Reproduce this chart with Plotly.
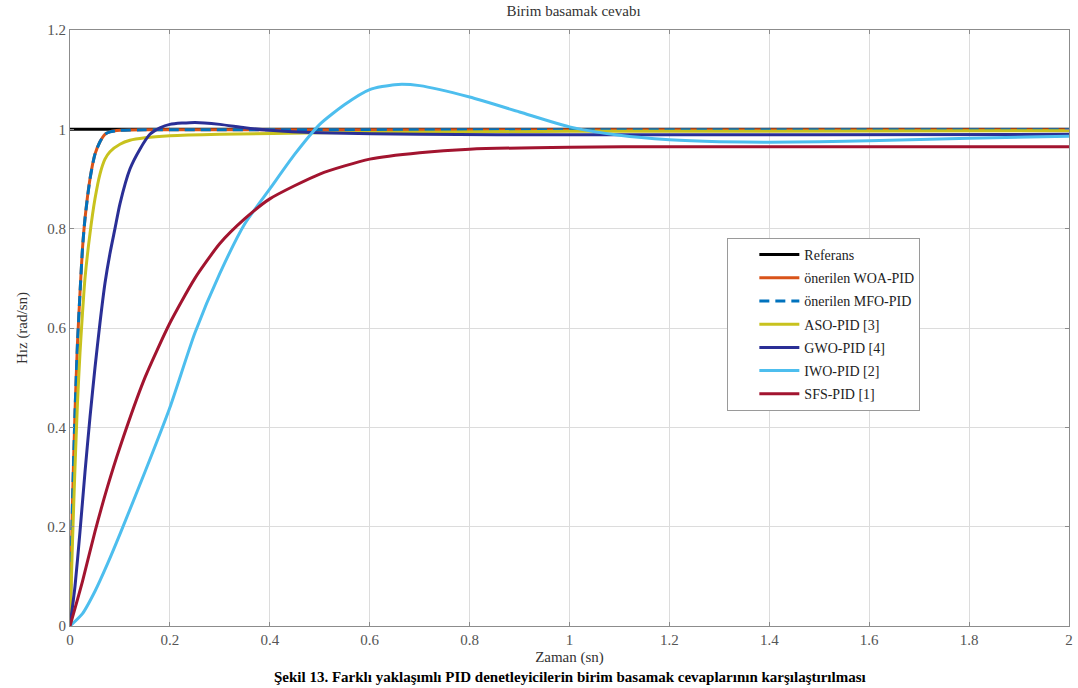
import plotly.graph_objects as go

# ---- data ----
ref_t = [0, 2]
ref_v = [1, 1]

woa_t = [0, 0.005, 0.01, 0.015, 0.02, 0.025, 0.03, 0.04, 0.05, 0.06, 0.07, 0.08, 0.1, 0.15, 0.2, 0.5, 1.0, 2.0]
woa_v = [0, 0.25, 0.43, 0.57, 0.67, 0.76, 0.82, 0.9, 0.95, 0.975, 0.99, 0.995, 0.998, 0.999, 0.999, 0.999, 0.999, 0.999]

mfo_t = [0, 0.005, 0.01, 0.015, 0.02, 0.025, 0.03, 0.04, 0.05, 0.06, 0.07, 0.08, 0.1, 0.15, 0.2, 0.5, 1.0, 2.0]
mfo_v = [0, 0.25, 0.43, 0.57, 0.67, 0.76, 0.82, 0.9, 0.95, 0.975, 0.99, 0.995, 0.998, 0.999, 0.999, 0.999, 0.999, 0.999]

aso_t = [0, 0.005, 0.01, 0.015, 0.02, 0.025, 0.03, 0.04, 0.05, 0.06, 0.07, 0.08, 0.1, 0.12, 0.15, 0.2, 0.3, 0.5, 1.0, 2.0]
aso_v = [0, 0.17, 0.32, 0.45, 0.55, 0.63, 0.7, 0.79, 0.86, 0.91, 0.94, 0.955, 0.97, 0.978, 0.983, 0.987, 0.99, 0.993, 0.996, 0.997]

gwo_t = [0, 0.01, 0.02, 0.03, 0.04, 0.05, 0.06, 0.07, 0.08, 0.09, 0.1, 0.12, 0.14, 0.16, 0.18, 0.2, 0.25, 0.3, 0.35, 0.4, 0.5, 0.7, 1.0, 1.5, 2.0]
gwo_v = [0, 0.08, 0.19, 0.31, 0.42, 0.52, 0.61, 0.69, 0.75, 0.8, 0.85, 0.92, 0.96, 0.99, 1.003, 1.01, 1.014, 1.01, 1.003, 0.998, 0.993, 0.99, 0.989, 0.989, 0.99]

iwo_t = [0, 0.025, 0.05, 0.075, 0.1, 0.15, 0.2, 0.25, 0.3, 0.35, 0.4, 0.45, 0.5, 0.55, 0.6, 0.65, 0.7, 0.8, 0.9, 1.0, 1.1, 1.2, 1.3, 1.4, 1.5, 1.6, 1.8, 2.0]
iwo_v = [0, 0.025, 0.07, 0.125, 0.185, 0.31, 0.44, 0.59, 0.71, 0.81, 0.88, 0.95, 1.01, 1.05, 1.08, 1.09, 1.088, 1.065, 1.035, 1.005, 0.988, 0.979, 0.975, 0.974, 0.975, 0.977, 0.982, 0.986]

sfs_t = [0, 0.025, 0.05, 0.075, 0.1, 0.15, 0.2, 0.25, 0.3, 0.35, 0.4, 0.5, 0.6, 0.7, 0.8, 1.0, 1.2, 2.0]
sfs_v = [0, 0.09, 0.19, 0.28, 0.36, 0.5, 0.61, 0.7, 0.77, 0.82, 0.86, 0.91, 0.94, 0.953, 0.96, 0.964, 0.965, 0.965]

names = ["Referans", "önerilen WOA-PID", "önerilen MFO-PID", "ASO-PID [3]",
         "GWO-PID [4]", "IWO-PID [2]", "SFS-PID [1]"]
colors = ["#000000", "#D95319", "#0072BD", "#C8C21E", "#2A2F96", "#4DBEEE", "#A2142F"]
series = [(ref_t, ref_v), (woa_t, woa_v), (mfo_t, mfo_v), (aso_t, aso_v),
          (gwo_t, gwo_v), (iwo_t, iwo_v), (sfs_t, sfs_v)]

FONT = "Liberation Serif"

fig = go.Figure()
for i, (name, col, (t, v)) in enumerate(zip(names, colors, series)):
    fig.add_trace(go.Scatter(
        x=t, y=v, name=name, mode="lines", legendgroup=str(i),
        line=dict(color=col, width=3, shape="spline", smoothing=0.6,
                  dash="10px,6px" if name == "önerilen MFO-PID" else "solid"),
    ))

axis_common = dict(
    showgrid=True, gridcolor="#dcdcdc", gridwidth=1,
    showline=True, linecolor="#8c8c8c", linewidth=1, mirror="ticks",
    ticks="inside", ticklen=4, tickcolor="#8c8c8c",
    zeroline=False, tickfont=dict(family=FONT, size=15, color="#555"),
)

fig.update_layout(
    width=1078, height=688,
    margin=dict(l=70, r=5, t=30, b=62),
    paper_bgcolor="white", plot_bgcolor="white",
    font=dict(family=FONT, color="#333"),
    title=dict(text="Birim basamak cevabı", x=0.532, xanchor="center",
               y=0.985, yanchor="middle", font=dict(family=FONT, size=15, color="#333")),
    xaxis=dict(range=[0, 2], dtick=0.2, tick0=0,
               title=dict(text="Zaman (sn)", font=dict(family=FONT, size=15, color="#333"), standoff=4),
               **axis_common),
    yaxis=dict(range=[0, 1.2], dtick=0.2, tick0=0,
               title=dict(text="Hız (rad/sn)", font=dict(family=FONT, size=15, color="#333"), standoff=16),
               **axis_common),
    legend=dict(x=0.658, y=0.651, xanchor="left", yanchor="top",
                bgcolor="white", bordercolor="#9a9a9a", borderwidth=1,
                font=dict(family=FONT, size=14, color="#222"),
                itemwidth=40, tracegroupgap=2, indentation=26),
    showlegend=True,
)

fig.add_annotation(
    text="<b>Şekil 13. Farklı yaklaşımlı PID denetleyicilerin birim basamak cevaplarının karşılaştırılması</b>",
    xref="paper", yref="paper", x=0.5, y=-0.069, xanchor="center", yanchor="top",
    showarrow=False, font=dict(family=FONT, size=15, color="#000"),
)

fig.write_html("out.html")
